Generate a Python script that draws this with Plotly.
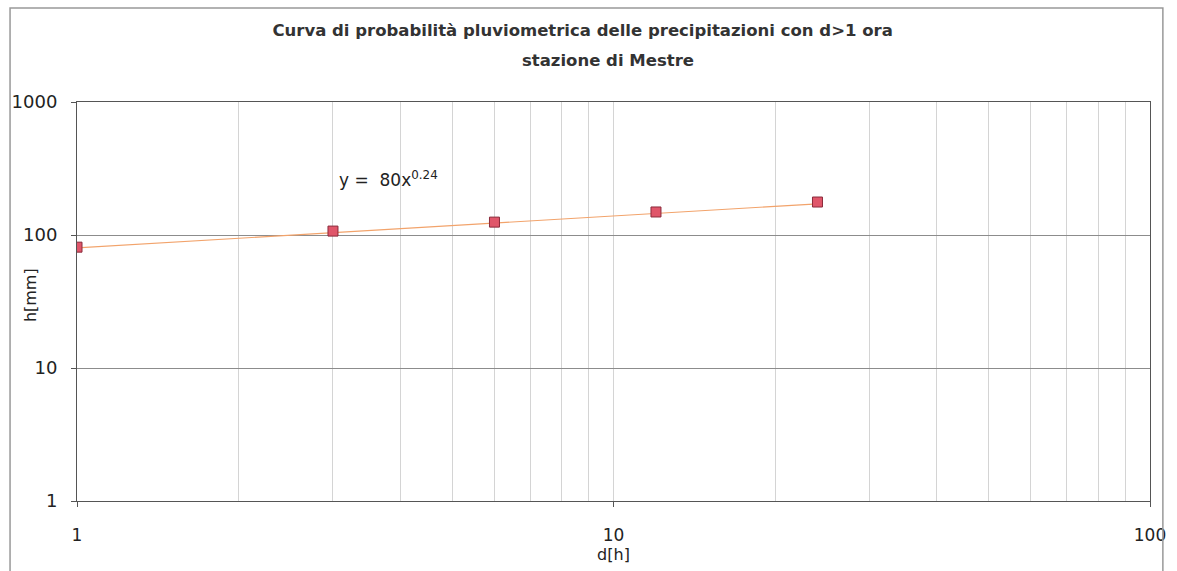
import numpy as np
import plotly.graph_objects as go

# Durations (hours) and measured rainfall depths (mm)
durations = [1, 3, 6, 12, 24]
depths = [81, 107, 125, 149, 177]

# Power-law fit coefficients h = a * d^n
coef_a = 80
coef_n = 0.24

x_ticks = [1, 10, 100]
y_ticks = [1, 10, 100, 1000]
x_minor = [2, 3, 4, 5, 6, 7, 8, 9, 20, 30, 40, 50, 60, 70, 80, 90]

fit_x = np.logspace(0, np.log10(max(durations)), 60)
fit_y = coef_a * fit_x ** coef_n

font_fam = "DejaVu Sans"

fig = go.Figure()
fig.add_trace(go.Scatter(
    x=fit_x, y=fit_y, mode="lines",
    line=dict(color="#f2a36b", width=1.2),
    hoverinfo="skip", showlegend=False,
))
fig.add_trace(go.Scatter(
    x=durations, y=depths, mode="markers",
    marker=dict(symbol="square", size=10, color="#e0566a",
                line=dict(color="#8a2a3a", width=1)),
    showlegend=False,
))

# fitted equation label
fig.add_annotation(
    x=np.log10(3.8), y=np.log10(265), xref="x", yref="y",
    text="y =  %dx<sup>%.2f</sup>" % (coef_a, coef_n),
    showarrow=False, xanchor="center", yanchor="middle",
    font=dict(family=font_fam, size=17, color="#222"),
)
# second title line (station name)
fig.add_annotation(
    x=0.495, y=1.105, xref="paper", yref="paper",
    text="<b>stazione di Mestre</b>", showarrow=False,
    xanchor="center", yanchor="middle",
    font=dict(family=font_fam, size=16.5, color="#333"),
)
# y-axis title
fig.add_annotation(
    x=-0.0438, y=0.516, xref="paper", yref="paper",
    text="h[mm]", textangle=-90, showarrow=False,
    xanchor="center", yanchor="middle",
    font=dict(family=font_fam, size=16, color="#222"),
)

fig.update_xaxes(
    type="log", range=[0, 2], automargin=False,
    tickvals=x_ticks, ticktext=[str(v) for v in x_ticks],
    showgrid=True, gridcolor="#d4d4d4", gridwidth=1,
    minor=dict(tickvals=x_minor, showgrid=True, gridcolor="#d4d4d4", gridwidth=1, ticks=""),
    showline=True, linecolor="#555", linewidth=1, mirror=True,
    ticks="outside", ticklen=5, tickcolor="#555",
    tickfont=dict(family=font_fam, size=17, color="#222"),
    ticklabelstandoff=14,
    title=dict(text="d[h]", font=dict(family=font_fam, size=16, color="#222"), standoff=2),
    zeroline=False,
)
fig.update_yaxes(
    type="log", range=[0, 3], automargin=False,
    tickvals=y_ticks, ticktext=[str(v) for v in y_ticks],
    showgrid=True, gridcolor="#8c8c8c", gridwidth=1,
    showline=True, linecolor="#555", linewidth=1, mirror=True,
    ticks="outside", ticklen=5, tickcolor="#555",
    tickfont=dict(family=font_fam, size=18, color="#222"),
    ticklabelstandoff=10,
    zeroline=False,
)

fig.update_layout(
    width=1177, height=571,
    margin=dict(l=77, r=27, t=102, b=70),
    paper_bgcolor="white", plot_bgcolor="white",
    title=dict(
        text="<b>Curva di probabilità pluviometrica delle precipitazioni con d>1 ora</b>",
        x=0.495, xanchor="center", y=1 - 30 / 571, yanchor="middle",
        font=dict(family=font_fam, size=16.5, color="#333"),
    ),
    shapes=[dict(type="rect", xref="paper", yref="paper",
                 x0=-0.0624, x1=1.012, y0=-0.18, y1=1.2356,
                 line=dict(color="#999", width=1.5))],
)

fig.write_html("out.html")
